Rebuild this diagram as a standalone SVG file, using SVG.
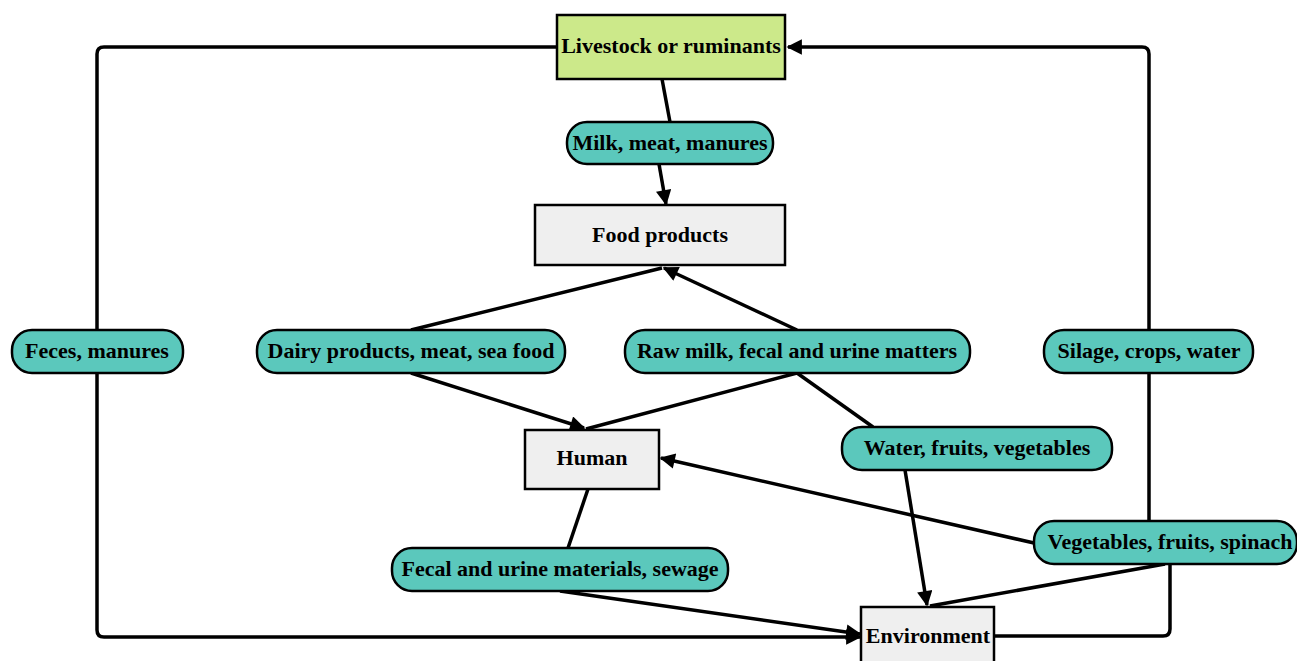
<svg xmlns="http://www.w3.org/2000/svg" width="1297" height="661" viewBox="0 0 1297 661">
<style>
.box{stroke:#000;stroke-width:2.5}
.green{fill:#cce98a}
.grey{fill:#efefef}
.pill{fill:#5bc8bc;stroke:#000;stroke-width:2.5}
.t{font-family:"Liberation Serif","Times New Roman",serif;font-weight:bold;font-size:22px;fill:#000;text-anchor:middle;dominant-baseline:central}
.c{fill:none;stroke:#000;stroke-width:3.5;stroke-linejoin:round}
</style>
<defs>
<marker id="ah" viewBox="0 0 10 10" refX="9" refY="5" markerWidth="5" markerHeight="4.4" markerUnits="strokeWidth" orient="auto">
<path d="M0,0 L10,5 L0,10 z" fill="#000"/>
</marker>
</defs>
<g id="connectors">
<path class="c" d="M557,47 H104 Q97,47 97,54 V630 Q97,637 104,637 H860" marker-end="url(#ah)"/>
<path class="c" d="M1149,521 V54 Q1149,47 1142,47 H788" marker-end="url(#ah)"/>
<path class="c" d="M662,79 L670,122"/>
<path class="c" d="M659,164 L666,204" marker-end="url(#ah)"/>
<path class="c" d="M411,330 L662,268"/>
<path class="c" d="M797,330 L664,268" marker-end="url(#ah)"/>
<path class="c" d="M411,373 L584,428" marker-end="url(#ah)"/>
<path class="c" d="M797,373 L586,429"/>
<path class="c" d="M797,373 L873,427"/>
<path class="c" d="M1034,543 L661,458" marker-end="url(#ah)"/>
<path class="c" d="M588,489 L568,548"/>
<path class="c" d="M560,591 L860,634" marker-end="url(#ah)"/>
<path class="c" d="M905,470 L927,605" marker-end="url(#ah)"/>
<path class="c" d="M1165,564 L930,606"/>
<path class="c" d="M1170,564 V629 Q1170,636 1163,636 H994"/>
</g>
<g id="livestock">
<rect class="box green" x="557" y="15" width="228" height="64"/>
<text class="t" x="671" y="45">Livestock or ruminants</text>
</g>
<g id="milk">
<rect class="pill" x="567" y="122" width="206" height="42" rx="20"/>
<text class="t" x="670" y="142">Milk, meat, manures</text>
</g>
<g id="food">
<rect class="box grey" x="535" y="205" width="250" height="60"/>
<text class="t" x="660" y="234">Food products</text>
</g>
<g id="feces">
<rect class="pill" x="12" y="330" width="171" height="43" rx="20"/>
<text class="t" x="97" y="350">Feces, manures</text>
</g>
<g id="dairy">
<rect class="pill" x="257" y="330" width="308" height="43" rx="20"/>
<text class="t" x="411" y="350">Dairy products, meat, sea food</text>
</g>
<g id="rawmilk">
<rect class="pill" x="625" y="330" width="345" height="43" rx="20"/>
<text class="t" x="797" y="350">Raw milk, fecal and urine matters</text>
</g>
<g id="silage">
<rect class="pill" x="1044" y="330" width="209" height="43" rx="20"/>
<text class="t" x="1149" y="350">Silage, crops, water</text>
</g>
<g id="human">
<rect class="box grey" x="525" y="430" width="134" height="59"/>
<text class="t" x="592" y="457">Human</text>
</g>
<g id="water">
<rect class="pill" x="842" y="427" width="270" height="43" rx="20"/>
<text class="t" x="977" y="447">Water, fruits, vegetables</text>
</g>
<g id="vegetables">
<rect class="pill" x="1034" y="521" width="263" height="43" rx="20"/>
<text class="t" x="1170" y="541">Vegetables, fruits, spinach</text>
</g>
<g id="fecal">
<rect class="pill" x="392" y="548" width="336" height="43" rx="20"/>
<text class="t" x="560" y="568">Fecal and urine materials, sewage</text>
</g>
<g id="environment">
<rect class="box grey" x="861" y="607" width="133" height="60"/>
<text class="t" x="928" y="635">Environment</text>
</g>
</svg>
